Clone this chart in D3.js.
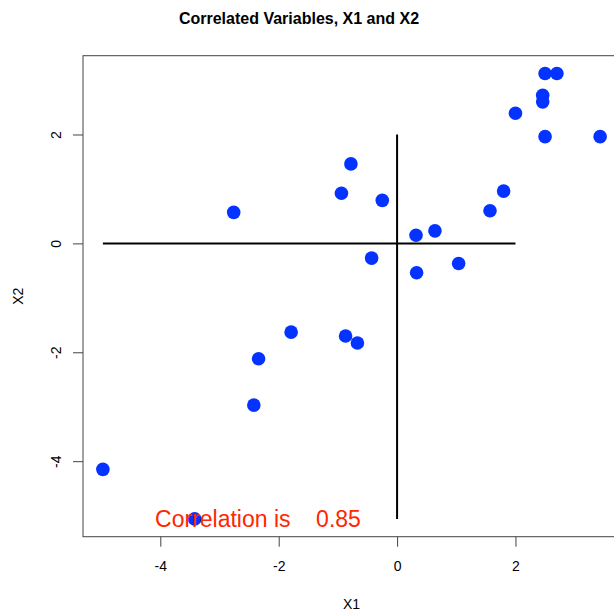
<!DOCTYPE html>
<html>
<head>
<meta charset="utf-8">
<script src="https://cdn.jsdelivr.net/npm/d3@7"></script>
<style>
    body { margin: 0; background: white; }
    svg { display: block; font-family: 'Liberation Sans', Arial, sans-serif; }
</style>
</head>
<body>
<div id="chart"></div>
<script>
// DATA
const X1 = [2.50, 2.70, 2.46, 2.46, 2.00, 2.50, 3.43, 1.80, 1.57, 0.64, 0.32, -0.25, -0.78,
    -0.94, -2.76, -0.43, 0.33, 1.04, -1.79, -0.87, -0.67, -2.34, -2.42, -4.97, -3.42];
const X2 = [3.12, 3.12, 2.72, 2.60, 2.39, 1.96, 1.96, 0.96, 0.60, 0.23, 0.15, 0.79, 1.46,
    0.92, 0.57, -0.27, -0.54, -0.37, -1.63, -1.70, -1.83, -2.12, -2.97, -4.15, -5.06];
const xTicks = [-4, -2, 0, 2];
const yTicks = [-4, -2, 0, 2];
const correlation = 0.85;
const labelX = -2.35;

// FIGURE DIMENSIONS
const FIGURE = {
    HEIGHT: 613,
    WIDTH: 614
};
const PLOT = {
    LEFT: 83,
    TOP: 55.7,
    RIGHT: 620,
    BOTTOM: 536.7
};

// R style 4% padding around the data
function pad(ext) {
    const d = (ext[1] - ext[0]) * 0.04;
    return [ext[0] - d, ext[1] + d];
}

const x = d3.scaleLinear()
    .domain(pad(d3.extent(X1)))
    .range([PLOT.LEFT, PLOT.RIGHT]);

const y = d3.scaleLinear()
    .domain(pad(d3.extent(X2)))
    .range([PLOT.BOTTOM, PLOT.TOP]);

const points = X1.map((d, i) => ({ x1: d, x2: X2[i] }));

const canvas = d3.select('#chart')
    .append('svg')
        .attr('width', FIGURE.WIDTH)
        .attr('height', FIGURE.HEIGHT);

// title
canvas.append('text')
    .attr('x', 299)
    .attr('y', 24)
    .attr('text-anchor', 'middle')
    .attr('font-size', 16)
    .attr('font-weight', 'bold')
    .text('Correlated Variables, X1 and X2');

// box
canvas.append('rect')
    .attr('x', PLOT.LEFT)
    .attr('y', PLOT.TOP)
    .attr('width', PLOT.RIGHT - PLOT.LEFT)
    .attr('height', PLOT.BOTTOM - PLOT.TOP)
    .attr('fill', 'none')
    .attr('stroke', '#444')
    .attr('stroke-width', 1);

// plain hyphen for negatives, like R
const fmt = d => String(d);

// x axis
const xAxis = canvas.append('g')
    .attr('class', 'xAxis')
    .attr('transform', `translate(0, ${PLOT.BOTTOM})`)
    .call(d3.axisBottom(x).tickValues(xTicks).tickFormat(fmt).tickSize(10).tickSizeOuter(0));
xAxis.attr('font-family', null);
xAxis.select('.domain').remove();
xAxis.selectAll('line').attr('stroke', '#444');
xAxis.selectAll('text')
    .attr('font-size', 14)
    .attr('dy', null)
    .attr('y', 34);

// y axis
const yAxis = canvas.append('g')
    .attr('class', 'yAxis')
    .attr('transform', `translate(${PLOT.LEFT}, 0)`)
    .call(d3.axisLeft(y).tickValues(yTicks).tickFormat(fmt).tickSize(10).tickSizeOuter(0));
yAxis.attr('font-family', null);
yAxis.select('.domain').remove();
yAxis.selectAll('line').attr('stroke', '#444');
yAxis.selectAll('text')
    .attr('font-size', 14)
    .attr('x', null)
    .attr('dy', null)
    .attr('text-anchor', 'middle')
    .attr('transform', 'translate(-22, 0) rotate(-90)');

// axis labels
canvas.append('text')
    .attr('x', (PLOT.LEFT + PLOT.RIGHT) / 2)
    .attr('y', 609)
    .attr('text-anchor', 'middle')
    .attr('font-size', 14)
    .text('X1');

canvas.append('text')
    .attr('transform', `translate(23, ${(PLOT.TOP + PLOT.BOTTOM) / 2}) rotate(-90)`)
    .attr('text-anchor', 'middle')
    .attr('font-size', 14)
    .text('X2');

// cross lines
const plot = canvas.append('g').attr('class', 'plot');
plot.append('line')
    .attr('x1', x(d3.min(X1)))
    .attr('x2', x(2))
    .attr('y1', y(0))
    .attr('y2', y(0))
    .attr('stroke', 'black')
    .attr('stroke-width', 2);
plot.append('line')
    .attr('x1', x(0))
    .attr('x2', x(0))
    .attr('y1', y(2))
    .attr('y2', y(d3.min(X2)))
    .attr('stroke', 'black')
    .attr('stroke-width', 2);

// points
plot.selectAll('circle')
    .data(points)
    .enter()
    .append('circle')
        .attr('cx', d => x(d.x1))
        .attr('cy', d => y(d.x2))
        .attr('r', 6.8)
        .attr('fill', '#0433ff');

// correlation note
plot.append('text')
    .attr('x', x(labelX))
    .attr('y', y(d3.min(X2)))
    .attr('dy', '0.36em')
    .attr('text-anchor', 'middle')
    .attr('font-size', 23)
    .attr('fill', '#ff2600')
    .style('white-space', 'pre')
    .text('Correlation is    ' + correlation);
</script>
</body>
</html>
